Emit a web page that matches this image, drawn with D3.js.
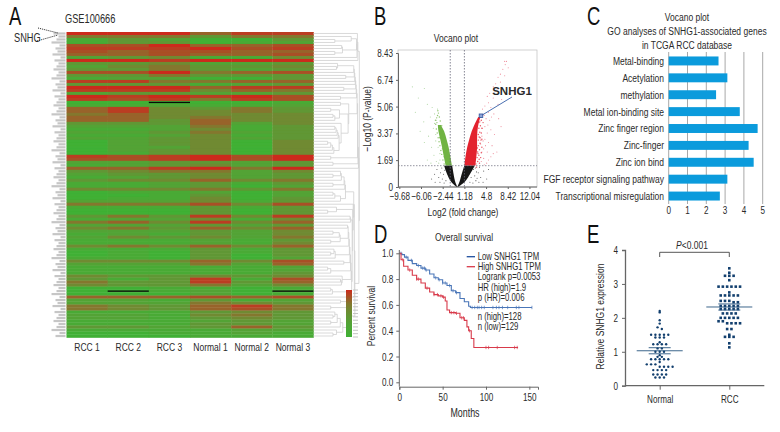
<!DOCTYPE html>
<html>
<head>
<meta charset="utf-8">
<script src="https://cdn.jsdelivr.net/npm/d3@7"></script>
<style>
  html, body { margin: 0; padding: 0; background: #fff; }
  svg { display: block; }
  text { font-family: "Liberation Sans", sans-serif; fill: #2a2a2a; font-size: 11px; }
  .panel { font-size: 25px; fill: #111; }
  .axis path, .axis line { stroke: #666; fill: none; }
</style>
</head>
<body>
<svg id="fig" width="780" height="432"></svg>
<script>
// A: heatmap, one string per row, one digit per sample (0 green .. 9 red)
var heatSamples = ["RCC 1", "RCC 2", "RCC 3", "Normal 1", "Normal 2", "Normal 3"];
var heatRows = [
  "999688","555355","132003","133012","779667","888978","767766","667667","234114","998999",
  "334223","245334","335323","779567","335333","122003","885566","333123","999688","888465",
  "233223","989897","878587","000001","112112","684353","684453","564444","664544","663644",
  "333624","222513","112413","223523","112413","223423","023404","023404","022404","023404",
  "013404","878979","778979","223323","123423","668959","345524","233423","123423","344645",
  "112313","112302","444535","011202","001302","011403","222413","555747","111313","000303",
  "000303","353848","122414","564846","222323","453646","222324","121324","243425","111213",
  "111214","454646","111313","010313","010303","110302","444647","222526","111112","111112",
  "111113","433434","313817","533836","433524","001101","001201","000201","666767","221312",
  "222543","543685","543675","111343","221453","221343","111232","111332","332363","111122",
  "001121","000111"
];
var heatMissing = [[23, 2], [86, 1], [86, 5]];
var heatLegendLevels = [9, 7, 5, 4, 3, 2, 1, 0];
var rowLabelWidths = [12, 7, 9, 14, 6, 10, 8, 13, 5, 11, 7, 9];

// B: volcano, bands are [-log10 p, left edge, right edge]
var volTicksX = [-9.68, -6.06, -2.44, 1.18, 4.8, 8.42, 12.04];
var volTicksY = [0, 1.69, 3.37, 5.06, 6.74, 8.43];
var volCutX = [-1.18, 1.18];
var volCutY = 1.34;
var blackLeft = [[0, -0.12, 0], [0.15, -0.6, -0.18], [0.4, -1.15, -0.4], [0.8, -1.7, -0.62], [1.34, -2.2, -0.85]];
var blackRight = [[0, 0, 0.12], [0.15, 0.18, 0.7], [0.4, 0.42, 1.4], [0.8, 0.72, 2.1], [1.34, 1.17, 2.9]];
var greenCore = [[1.34, -1.95, -0.9], [2, -2.3, -1.2], [2.5, -2.55, -1.45], [3, -2.85, -1.8], [3.5, -3.15, -2.2], [3.9, -3.25, -2.75]];
var redCore = [[1.34, 1.17, 3], [2, 1.4, 3.2], [2.5, 1.65, 3.3], [3, 2, 3.3], [3.5, 2.4, 3.35], [4, 2.95, 3.55], [4.4, 3.5, 3.85]];
var redEdge = [[3.1,1.45],[3.4,1.6],[3.7,1.5],[3.3,1.85],[3.6,2],[3.9,1.85],[3.4,2.2],[3.7,2.35],[4,2.15],[3.5,2.6],[3.8,2.75],[4.1,2.5],[3.5,2.95],[3.8,3.1],[4.1,3],[3.5,3.3],[3.75,3.45],[4,3.4],[3.6,3.7],[3.85,3.85],[4.1,3.7],[3.75,4.1],[4,4.2],[4.3,4.05],[4.25,4.55],[3.2,1.25],[3.45,2.1],[3.35,2.45],[3.65,1.75],[3.95,2.95],[3.65,3.15],[3.6,4.05]];
var greenEdge = [[-2.2,1.45],[-2.4,1.7],[-2.6,2.05],[-2.75,2.3],[-2.9,2.6],[-3.05,2.85],[-3.2,3.1],[-3.35,3.4],[-3.5,3.65],[-3.6,3.95],[-3.65,4.2],[-3.45,4.35],[-3.3,4.5],[-3.15,4.65],[-3,4.4],[-2.85,4.15],[-2.6,3.85],[-2.2,1.9],[-2.5,2.4],[-2.95,3.1],[-3.4,4.05],[-3.25,4.8],[-2.1,3.05],[-1.75,2.55]];
var farRed = [[5,5.7],[5.4,5.9],[5.2,5.3],[6,6.3],[6.4,6.5],[6.8,6.9],[7.2,7.1],[7.6,7.4],[8,7.7],[8.2,7.9],[8.5,7.5],[7.9,7],[7.2,6.6],[6.6,6.1],[6,5.6],[5.6,5],[5.2,4.7],[4.8,4.3],[5.4,4.2],[6.1,4.6],[6.8,5.2],[7.4,5.5],[8.6,5.9],[4.6,3.8],[5,3.4],[5.6,3.6],[6.2,3.3],[4.6,3],[5.2,2.8],[5.8,2.6],[4.4,2.4],[5,2.2],[5.6,1.9],[4.4,1.8],[4.9,1.5],[6.6,2.2],[7.3,3.8],[4.2,4.9],[4.6,5.1],[4.1,3.2],[4.3,2.9],[4.1,2.2],[4,1.6],[4.5,1.4],[4.2,3.7],[4.5,4.5],[3.9,2.7],[4.7,2.6],[5.1,3.9],[5.7,4.4],[7.9,7.9],[5.2,1.7],[6,2.1],[6.9,4.3]];
var farGreen = [[-5.5,6.2],[-6.5,5.6],[-5,5.2],[-4.2,5],[-3.8,4.6],[-4.5,4.4],[-5.6,4.1],[-4,3.7],[-4.8,3.2],[-5.5,2.8],[-4.3,2.5],[-3.9,2],[-5,1.7],[-4.4,1.5],[-3.5,1.6],[-3.6,2.9],[-3.3,4.9],[-6.2,3.5],[-7,4.7],[-3.1,1.5],[-2.9,2.1],[-3.6,3.3],[-7.5,6.3],[-3.2,2.5],[-2.9,1.7],[-3.8,4],[-3.5,4.2],[-2.9,3.7]];
var farBlack = [[-4.3,0.5],[-3.8,0.8],[-3.4,1.1],[-3.1,0.6],[-2.8,0.9],[-2.6,1.2],[-2.5,0.5],[-2.9,0.3],[-2.3,0.8],[-2.2,0.25],[-3.7,0.3],[3,1.2],[3.5,0.9],[3.9,0.6],[4.4,1],[3.1,0.4],[3.6,0.3],[2.9,0.7],[2.6,0.25],[4.9,0.5],[4.3,0.3],[5.2,1.1],[2.7,1.1],[3.3,0.55],[-1.9,0.4],[-2.1,1.05],[2.1,0.3],[2.3,0.6],[3.2,0.95],[3.7,1.25]];
var snhg1Point = [3.95, 4.48];

// C: GO terms
var goTerms = ["Metal-binding", "Acetylation", "methylation", "Metal ion-binding site", "Zinc finger region", "Zinc-finger", "Zinc ion bind", "FGF receptor signaling pathway", "Transcriptional misregulation"];
var goValues = [2.65, 3.12, 2.52, 3.78, 4.73, 4.25, 4.52, 3.12, 2.72];
var goTicks = [0, 1, 2, 3, 4, 5];

// D: survival
var lowSurv = [[0,1],[3,0.99],[6,0.97],[10,0.945],[15,0.92],[20,0.905],[25,0.885],[30,0.87],[35,0.84],[40,0.81],[45,0.795],[50,0.77],[55,0.75],[60,0.71],[65,0.695],[70,0.65],[75,0.625],[80,0.59],[82,0.58],[153,0.58]];
var highSurv = [[0,1],[2,0.95],[5,0.9],[10,0.87],[15,0.83],[20,0.8],[25,0.77],[30,0.73],[35,0.7],[40,0.68],[45,0.67],[50,0.66],[53,0.63],[55,0.56],[58,0.54],[65,0.535],[70,0.5],[75,0.48],[78,0.43],[80,0.4],[83,0.34],[86,0.27],[137,0.27]];
var lowCensor = [2,8,14,22,27,29,31,42,46,50,53,58,62,66,84,87,90,92,95,98,108,112,115,119,125,135,138,153];
var highCensor = [4,12,20,22,32,40,44,48,51,60,63,66,72,74,81,100,103,113,133,136];
var survLegend = ["Logrank p=0.0053", "HR (high)=1.9", "p (HR)=0.006"];
var survCounts = ["n (high)=128", "n (low)=129"];

// E: relative expression
var normalVals = [2.2,2.16,1.93,1.83,1.72,1.67,1.5,1.5,1.5,1.5,1.5,1.42,1.42,1.42,1.28,1.22,1.22,1.22,1.22,1.1,1.1,1,1,1,0.9,0.85,0.85,0.78,0.78,0.78,0.78,0.78,0.7,0.63,0.63,0.63,0.56,0.56,0.56,0.56,0.46,0.46,0.46,0.46,0.33,0.33,0.33,0.33,0.24,0.24,0.24];
var rccVals = [3.46,3.33,3.24,3.24,3.24,3.11,2.92,2.92,2.92,2.92,2.92,2.92,2.75,2.66,2.66,2.66,2.66,2.66,2.5,2.5,2.5,2.46,2.46,2.35,2.35,2.35,2.35,2.35,2.26,2.26,2.26,2.26,2.26,2.13,2.13,2.13,2.13,2,2,2,2,2,1.9,1.9,1.84,1.84,1.84,1.84,1.67,1.67,1.5,1.44,1.44,1.44,1.25,1.13];
var exprMean = [1.03, 2.32];
var exprSem = 0.09;
var exprGroups = ["Normal", "RCC"];

var svg = d3.select("#fig");

function styleAxis(g) {
  g.attr("class", "axis");
  g.selectAll("text").style("font-size", "11px");
  return g;
}

function label(x, y, str, anchor, size, rotate) {
  var t = svg.append("text")
    .attr("x", x).attr("y", y)
    .attr("text-anchor", anchor || "middle")
    .style("font-size", (size || 11) + "px")
    .text(str);
  if (rotate) t.attr("transform", "rotate(" + rotate + "," + x + "," + y + ")");
  return t;
}

function heatColor() {
  return d3.scaleLinear()
    .domain([0, 2, 4, 6, 9])
    .range(["#3fb034", "#52a336", "#6f8a32", "#98632a", "#cc2a1c"]);
}

function drawHeatmap() {
  var x = d3.scaleBand().domain(d3.range(6)).range([66.5, 313.5]);
  var y = d3.scaleBand().domain(d3.range(heatRows.length)).range([32, 337.5]);
  var color = heatColor();
  var g = svg.append("g").attr("filter", "url(#soft)");

  heatRows.forEach(function(row, r) {
    g.selectAll(null)
      .data(row.split("").map(Number))
      .enter().append("rect")
      .attr("x", function(d, i) { return x(i); })
      .attr("y", y(r))
      .attr("width", x.bandwidth() + 0.3)
      .attr("height", y.bandwidth() + 0.3)
      .attr("fill", function(d) { return color(d); });
  });

  var top = svg.append("g");
  top.selectAll(null).data(heatMissing).enter().append("rect")
    .attr("x", function(d) { return x(d[1]); })
    .attr("y", function(d) { return y(d[0]) + 0.9; })
    .attr("width", x.bandwidth())
    .attr("height", 1.3)
    .attr("fill", "#0a0a0a");

  // row labels are unreadable in the source, so just grey dashes
  top.selectAll(null).data(heatRows).enter().append("line")
    .attr("x1", function(d, i) { return 65.5 - rowLabelWidths[i % rowLabelWidths.length]; })
    .attr("x2", 65.5)
    .attr("y1", function(d, i) { return y(i) + y.bandwidth() / 2; })
    .attr("y2", function(d, i) { return y(i) + y.bandwidth() / 2; })
    .attr("stroke", "#c6c6c6")
    .attr("stroke-width", 2.2);

  heatSamples.forEach(function(s, i) {
    label(x(i) + x.bandwidth() / 2, 351, s, "middle", 11.5);
  });

  drawDendrogram(y);
  drawHeatLegend(color);

  label(65, 23, "GSE100666", "start", 12.5);
  label(14, 42, "SNHG", "start", 12.5);
  var notes = [[38, 28, 58, 33], [37, 41, 58, 35]];
  svg.selectAll(null).data(notes).enter().append("line")
    .attr("x1", function(d) { return d[0]; }).attr("y1", function(d) { return d[1]; })
    .attr("x2", function(d) { return d[2]; }).attr("y2", function(d) { return d[3]; })
    .attr("stroke", "#222").attr("stroke-dasharray", "1,1");
}

// adjacent-row clustering of the heat rows, only the neighbours can merge
function drawDendrogram(y) {
  var nodes = heatRows.map(function(row, i) {
    return { vals: row.split("").map(Number), pos: y(i) + y.bandwidth() / 2, h: 0, n: 1 };
  });
  var depth = d3.scaleSqrt().domain([0, 6]).range([322, 362]).clamp(true);
  var g = svg.append("g").attr("fill", "none").attr("stroke", "#cfcfcf").attr("stroke-width", 0.8);

  function dist(a, b) {
    return d3.mean(a.vals, function(v, i) { return Math.abs(v - b.vals[i]); });
  }
  function px(n) { return n.h === 0 ? 313.5 : depth(n.h); }

  while (nodes.length > 1) {
    var best = 0, bestD = Infinity;
    for (var i = 0; i < nodes.length - 1; i++) {
      var d = dist(nodes[i], nodes[i + 1]);
      if (d < bestD) { bestD = d; best = i; }
    }
    var a = nodes[best], b = nodes[best + 1];
    var h = Math.max(a.h, b.h, bestD) + 0.12;
    var m = {
      vals: a.vals.map(function(v, k) { return (v * a.n + b.vals[k] * b.n) / (a.n + b.n); }),
      pos: (a.pos + b.pos) / 2, h: h, n: a.n + b.n
    };
    g.append("path").attr("d",
      "M" + px(a) + "," + a.pos + "H" + depth(h) + "V" + b.pos + "H" + px(b));
    nodes.splice(best, 2, m);
  }
}

function drawHeatLegend(color) {
  var grad = svg.select("defs").append("linearGradient").attr("id", "heatGrad")
    .attr("x1", 0).attr("x2", 0).attr("y1", 0).attr("y2", 1);
  heatLegendLevels.forEach(function(v, i) {
    grad.append("stop")
      .attr("offset", i / (heatLegendLevels.length - 1))
      .attr("stop-color", color(v));
  });
  var y = d3.scaleLinear().domain([0, 14]).range([290, 337]);
  svg.append("rect").attr("x", 346).attr("y", 290).attr("width", 6).attr("height", 47).attr("fill", "url(#heatGrad)");
  svg.selectAll(null).data(d3.range(15)).enter().append("line")
    .attr("x1", 353).attr("x2", 358)
    .attr("y1", function(d) { return y(d); }).attr("y2", function(d) { return y(d); })
    .attr("stroke", "#c4c4c4").attr("stroke-width", 1);
}

function drawVolcano() {
  var x = d3.scaleLinear().domain([-9.9, 13.3]).range([398, 537]);
  var y = d3.scaleLinear().domain([0, 8.43]).range([187, 53]);
  var g = svg.append("g");

  g.append("rect").attr("x", 398).attr("y", 50).attr("width", 139).attr("height", 137)
    .attr("fill", "none").attr("stroke", "#bdbdbd").attr("stroke-width", 0.7);

  var band = d3.area()
    .y(function(d) { return y(d[0]); })
    .x0(function(d) { return x(d[1]); })
    .x1(function(d) { return x(d[2]); })
    .curve(d3.curveMonotoneY);

  function dots(list, col, op, r) {
    g.selectAll(null).data(list).enter().append("circle")
      .attr("cx", function(d) { return x(d[0]); })
      .attr("cy", function(d) { return y(d[1]); })
      .attr("r", r || 0.55).attr("fill", col).attr("opacity", op);
  }

  dots(farRed, "#e8667a", 0.75);
  dots(farGreen, "#8cc37a", 0.7);
  dots(farBlack, "#333", 0.8);
  dots(redEdge, "#e3303f", 0.85, 0.7);
  dots(greenEdge, "#7dbb55", 0.85, 0.7);

  var soft = g.append("g").attr("filter", "url(#fuzz)");
  soft.append("path").attr("d", band(greenCore)).attr("fill", "#6fb343");
  soft.append("path").attr("d", band(redCore)).attr("fill", "#e3212f");
  soft.append("path").attr("d", band(blackLeft)).attr("fill", "#151515");
  soft.append("path").attr("d", band(blackRight)).attr("fill", "#151515");

  g.selectAll(null).data(volCutX).enter().append("line")
    .attr("x1", function(d) { return x(d); }).attr("x2", function(d) { return x(d); })
    .attr("y1", 50).attr("y2", 187)
    .attr("stroke", "#667").attr("stroke-width", 0.8).attr("stroke-dasharray", "1.5,1.5");
  g.append("line").attr("x1", 398).attr("x2", 537)
    .attr("y1", y(volCutY)).attr("y2", y(volCutY))
    .attr("stroke", "#778").attr("stroke-width", 0.8).attr("stroke-dasharray", "1.5,1.5");

  g.append("g").attr("transform", "translate(0,187)")
    .call(d3.axisBottom(x).tickValues(volTicksX).tickSize(2).tickFormat(function(d) { return String(d).replace("-", "\u2212"); }))
    .call(styleAxis).call(function(a) { a.select(".domain").attr("d", "M398,0H537"); });
  g.append("g").attr("transform", "translate(398,0)")
    .call(d3.axisLeft(y).tickValues(volTicksY).tickSize(2).tickFormat(function(d) { return d; }))
    .call(styleAxis);

  var sx = x(snhg1Point[0]), sy = y(snhg1Point[1]);
  g.append("line").attr("x1", sx).attr("y1", sy).attr("x2", 512).attr("y2", 97)
    .attr("stroke", "#4a6fb0").attr("stroke-width", 1);
  g.append("rect").attr("x", sx - 1.8).attr("y", sy - 1.8).attr("width", 3.6).attr("height", 3.6)
    .attr("fill", "#8fa6d6").attr("stroke", "#2f4f9a").attr("stroke-width", 0.8);

  label(512, 95, "SNHG1", "middle", 11.5)
    .attr("class", "wide")
    .style("font-weight", "bold");
  label(456, 42, "Vocano plot", "middle", 11.5);
  label(463, 216, "Log2 (fold change)", "middle", 11.5);
  label(371, 119, "\u2212Log10 (P-value)", "middle", 11.5, -90);
}

function drawGo() {
  var x = d3.scaleLinear().domain([0, 5]).range([668.7, 762.7]);
  var y = d3.scaleBand().domain(goTerms).range([52.5, 204.5]).paddingInner(0.47).paddingOuter(0.235);
  var g = svg.append("g");

  g.selectAll(null).data(goTicks).enter().append("line")
    .attr("x1", function(d) { return x(d); }).attr("x2", function(d) { return x(d); })
    .attr("y1", 52).attr("y2", 204)
    .attr("stroke", "#a8a8a8").attr("stroke-width", 1);

  g.selectAll(null).data(goValues).enter().append("rect")
    .attr("x", x(0))
    .attr("y", function(d, i) { return y(goTerms[i]); })
    .attr("width", function(d) { return x(d) - x(0); })
    .attr("height", y.bandwidth())
    .attr("fill", "#0b9bdc");

  g.selectAll(null).data(goTerms).enter().append("text")
    .attr("x", 664)
    .attr("y", function(d) { return y(d) + y.bandwidth() / 2 + 4; })
    .attr("text-anchor", "end")
    .style("font-size", "11.5px")
    .text(function(d) { return d; });

  g.selectAll(null).data(goTicks).enter().append("text")
    .attr("x", function(d) { return x(d); })
    .attr("y", 214)
    .attr("text-anchor", "middle")
    .text(function(d) { return d; });

  label(687, 21.5, "Vocano plot", "middle", 11.5);
  label(687, 35.5, "GO analyses of SNHG1-associated genes", "middle", 11.5);
  label(687, 49, "in TCGA RCC database", "middle", 11.5);
}

function drawSurvival() {
  var x = d3.scaleLinear().domain([0, 160]).range([399.3, 538]);
  var y = d3.scaleLinear().domain([0, 1]).range([382.3, 253.3]);
  var g = svg.append("g");
  var line = d3.line()
    .x(function(d) { return x(d[0]); })
    .y(function(d) { return y(d[1]); })
    .curve(d3.curveStepAfter);

  function survAt(curve, t) {
    var s = 1;
    curve.forEach(function(p) { if (p[0] <= t) s = p[1]; });
    return s;
  }

  function series(curve, censor, col) {
    g.append("path").attr("d", line(curve)).attr("fill", "none")
      .attr("stroke", col).attr("stroke-width", 1.1);
    g.selectAll(null).data(censor).enter().append("line")
      .attr("x1", function(d) { return x(d); }).attr("x2", function(d) { return x(d); })
      .attr("y1", function(d) { return y(survAt(curve, d)) - 1.7; })
      .attr("y2", function(d) { return y(survAt(curve, d)) + 1.7; })
      .attr("stroke", col).attr("stroke-width", 0.7);
  }

  series(lowSurv, lowCensor, "#4a76b8");
  series(highSurv, highCensor, "#d83a4a");

  g.append("g").attr("transform", "translate(0,386.7)")
    .call(d3.axisBottom(x).tickValues([0, 50, 100, 150]).tickSize(3))
    .call(styleAxis);
  g.append("g").attr("transform", "translate(399.3,0)")
    .call(d3.axisLeft(y).tickValues([0, 0.2, 0.4, 0.6, 0.8, 1]).tickSize(3).tickFormat(d3.format(".1f")))
    .call(styleAxis)
    .call(function(a) { a.select(".domain").attr("d", "M0,250V386.7"); });

  g.append("line").attr("x1", 466.7).attr("x2", 475).attr("y1", 256.7).attr("y2", 256.7).attr("stroke", "#1f4f9e").attr("stroke-width", 1.3);
  g.append("line").attr("x1", 466.7).attr("x2", 475).attr("y1", 266.7).attr("y2", 266.7).attr("stroke", "#d83a4a").attr("stroke-width", 1.3);
  label(477.7, 260.5, "Low SNHG1 TPM", "start", 10.5);
  label(477.7, 270.5, "High SNHG1 TPM", "start", 10.5);
  survLegend.forEach(function(s, i) { label(477.7, 280.5 + i * 10.2, s, "start", 10.5); });
  survCounts.forEach(function(s, i) { label(477.7, 320.5 + i * 10, s, "start", 10.5); });

  label(464, 241.5, "Overall survival", "middle", 11.5);
  label(465, 417, "Months", "middle", 12);
  label(375, 316, "Percent survival", "middle", 11.5, -90);
}

// spread equal-ish values sideways, like the prism scatter
function swarm(vals) {
  var bins = d3.group(vals, function(v) { return Math.round(v / 0.085); });
  var out = [];
  bins.forEach(function(list) {
    list.forEach(function(v, i) {
      out.push({ v: v, off: (i - (list.length - 1) / 2) * 4.3 });
    });
  });
  return out;
}

function drawExpression() {
  var x = d3.scalePoint().domain(exprGroups).range([659.7, 729.3]);
  var y = d3.scaleLinear().domain([0, 4]).range([385.7, 250]);
  var g = svg.append("g");
  var navy = "#123f6e";

  g.append("g").attr("transform", "translate(0,385.7)")
    .call(d3.axisBottom(x).tickSize(4))
    .call(styleAxis)
    .call(function(a) { a.select(".domain").attr("d", "M625,0H764.3"); })
    .selectAll("text").attr("dy", "0.9em");
  g.append("g").attr("transform", "translate(625,0)")
    .call(d3.axisLeft(y).tickValues([0, 1, 2, 3, 4]).tickSize(3).tickPadding(4).tickFormat(d3.format("d")))
    .call(styleAxis);
  g.selectAll(".domain").attr("stroke-width", 1.3);

  g.selectAll(null).data(swarm(normalVals)).enter().append("circle")
    .attr("cx", function(d) { return x("Normal") + d.off; })
    .attr("cy", function(d) { return y(d.v); })
    .attr("r", 1.2).attr("fill", navy);
  g.selectAll(null).data(swarm(rccVals)).enter().append("rect")
    .attr("x", function(d) { return x("RCC") + d.off - 1.3; })
    .attr("y", function(d) { return y(d.v) - 1.3; })
    .attr("width", 2.6).attr("height", 2.6).attr("fill", navy);

  exprGroups.forEach(function(name, i) {
    var cx = x(name), m = exprMean[i];
    [[m, 23], [m + exprSem, 11], [m - exprSem, 11]].forEach(function(s) {
      g.append("line").attr("x1", cx - s[1]).attr("x2", cx + s[1])
        .attr("y1", y(s[0])).attr("y2", y(s[0]))
        .attr("stroke", "#27557f").attr("stroke-width", 0.9);
    });
  });

  g.append("path").attr("d", "M659.7,257V252.3H729.3V257").attr("fill", "none").attr("stroke", "#444").attr("stroke-width", 0.9);
  var p = label(692, 249.5, "", "middle", 11.5);
  p.append("tspan").style("font-style", "italic").text("P");
  p.append("tspan").text("<0.001");
  label(604, 316.5, "Relative SNHG1 expression", "middle", 11.5, -90);
}

function drawPanels() {
  label(9, 25, "A", "start", 25).attr("class", "panel");
  label(374, 25, "B", "start", 25).attr("class", "panel");
  label(587, 25, "C", "start", 25).attr("class", "panel");
  label(374, 243, "D", "start", 25).attr("class", "panel");
  label(587, 243, "E", "start", 25).attr("class", "panel");
}

// the source font is a condensed one, no such font here so squeeze the glyphs around the anchor
function condenseText() {
  svg.selectAll("text").each(function() {
    if (this.getAttribute("class") === "wide") return;
    var ax = +this.getAttribute("x") || 0;
    var old = this.getAttribute("transform") || "";
    this.setAttribute("transform", old + " translate(" + ax + ",0) scale(0.74,1) translate(" + (-ax) + ",0)");
  });
}

var defs = svg.append("defs");
defs.append("filter").attr("id", "soft").append("feGaussianBlur").attr("stdDeviation", "0.45");
defs.append("filter").attr("id", "fuzz").append("feGaussianBlur").attr("stdDeviation", "0.7");

drawHeatmap();
drawVolcano();
drawGo();
drawSurvival();
drawExpression();
drawPanels();
condenseText();
</script>
</body>
</html>
